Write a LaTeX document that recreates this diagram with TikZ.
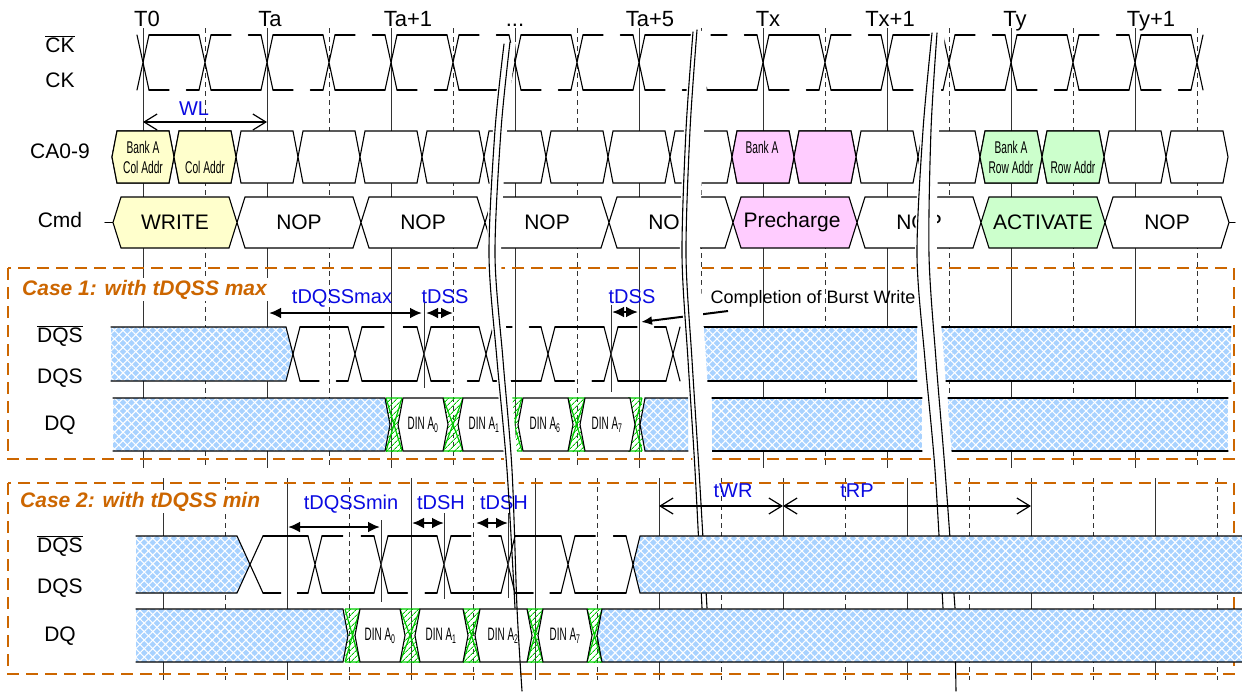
\documentclass[tikz,border=0pt]{standalone}
\usepackage{fontspec}
\setmainfont{Liberation Sans}
\usetikzlibrary{arrows.meta,positioning,patterns.meta}

\definecolor{yellowbox}{RGB}{255,255,204}
\definecolor{pinkbox}{RGB}{255,204,255}
\definecolor{greenbox}{RGB}{204,255,204}
\definecolor{casebrown}{RGB}{204,102,0}
\definecolor{dimblue}{RGB}{10,10,225}
\definecolor{hatchblue}{RGB}{168,210,255}
\definecolor{dingreen}{RGB}{0,200,0}

\newcommand{\narrowtxt}[1]{\scalebox{0.6}[1]{#1}}
\newcommand{\dintxt}[1]{\scalebox{0.55}[1]{DIN A\textsubscript{#1}}}
% hexagon, tip to tip
\newcommand{\hexpath}[5]{({#1},{(#3+#4)/2}) -- ({#1+#5},#3) -- ({#2-#5},#3) -- ({#2},{(#3+#4)/2}) -- ({#2-#5},#4) -- ({#1+#5},#4) -- cycle}
% crossing of a differential pair
\newcommand{\xcross}[4]{\draw[wave] ({#1-#4},#2) -- ({#1+#4},#3) ({#1-#4},#3) -- ({#1+#4},#2);}
% half period: one level solid, the other broken
\newcommand{\halfcyc}[6]{%
  \pgfmathsetmacro{\hxa}{#1+#5}%
  \pgfmathsetmacro{\hxb}{(#2)-#5}%
  \pgfmathsetmacro{\hpa}{#1+0.42*((#2)-(#1))}%
  \pgfmathsetmacro{\hpb}{#1+0.70*((#2)-(#1))}%
  \ifnum#6=1
    \draw[wave] (\hxa,#3) -- (\hxb,#3) (\hxa,#4) -- (\hpa,#4) (\hpb,#4) -- (\hxb,#4);
  \else
    \draw[wave] (\hxa,#4) -- (\hxb,#4) (\hxa,#3) -- (\hpa,#3) (\hpb,#3) -- (\hxb,#3);
  \fi}
% green data transition
\newcommand{\dqtrans}[4]{%
  \fill[pattern={Lines[angle=45,distance=4pt,line width=1pt]}, pattern color=dingreen] (#1,#3) rectangle (#2,#4);
  \draw[dingreen, line width=1.2pt] (#1,#3) -- (#2,#4) (#1,#4) -- (#2,#3) (#1,#3) -- (#2,#3) (#1,#4) -- (#2,#4);}
\newcommand{\hatchrect}[4]{%
  \path[hatch] (#1,#3) rectangle (#2,#4);
  \draw[wave] (#1,#3) -- (#2,#3) (#1,#4) -- (#2,#4);}

\begin{document}
\begin{tikzpicture}[x=1pt, y=-1pt,
  wave/.style={line width=1.1pt, line cap=round},
  gridsolid/.style={line width=0.9pt, black!80},
  griddash/.style={gridsolid, dash pattern=on 5pt off 4pt},
  hexbox/.style={draw, line width=1.1pt, fill=white},
  hatch/.style={preaction={fill=hatchblue},
    preaction={pattern={Lines[angle=45,distance=6pt,line width=1.1pt]}, pattern color=white},
    preaction={pattern={Lines[angle=-45,distance=6pt,line width=1.1pt]}, pattern color=white}},
  sig/.style={font=\fontsize{21}{25}\selectfont, anchor=base},
  clk/.style={font=\fontsize{22}{26}\selectfont, anchor=base},
  cmdtext/.style={font=\fontsize{21}{25}\selectfont},
  catext/.style={font=\fontsize{17}{20}\selectfont, align=center},
  dintext/.style={font=\fontsize{18}{20}\selectfont},
  timing/.style={font=\fontsize{20}{24}\selectfont, text=dimblue, anchor=base},
  casetitle/.style={font=\fontsize{21}{24}\selectfont\bfseries\itshape, text=casebrown, anchor=base west, fill=white, inner sep=2pt},
  casebox/.style={draw=casebrown, line width=2.5pt, dash pattern=on 12pt off 7pt},
  thinarr/.style={line width=1.2pt, {Straight Barb[length=13pt,width=16pt]}-{Straight Barb[length=13pt,width=16pt]}},
  boldarr/.style={line width=2.8pt, {Latex[length=12pt,width=11pt]}-{Latex[length=12pt,width=11pt]}}
]
\useasboundingbox (0,0) rectangle (1242,691);

% Clock names
\node[clk] (t0) at (147,26) {T0};
\node[clk] (ta) at (270,26) {Ta};
\node[clk] (ta1) at (408,26) {Ta+1};
\node[clk] (tdots) at (515,26) {...};
\node[clk] (ta5) at (650,26) {Ta+5};
\node[clk] (tx) at (768,26) {Tx};
\node[clk] (tx1) at (890,26) {Tx+1};
\node[clk] (ty) at (1015,26) {Ty};
\node[clk] (ty1) at (1151,26) {Ty+1};

% Signal names
\node[sig] (ckbar) at (60,52) {$\overline{\mbox{CK}}$};
\node[sig] (ck) at (60,87) {CK};
\node[sig] (ca) at (60,158) {CA0-9};
\node[sig] (cmd) at (60,227) {Cmd};

% Grid
\foreach \k in {0,...,8} {
  \draw[gridsolid] ({143+124*\k},28) -- ({143+124*\k},468);
  \draw[griddash] ({205+124*\k},28) -- ({205+124*\k},468);
  \draw[gridsolid] ({163+124*\k},478) -- ({163+124*\k},680);
  \draw[griddash] ({225+124*\k},478) -- ({225+124*\k},680);
}

% Clock
\foreach \k in {0,...,17} {\xcross{143+62*\k}{35}{90}{6}}
\foreach \k in {0,...,16} {
  \pgfmathsetmacro{\ca}{143+62*\k}
  \pgfmathtruncatemacro{\up}{1-mod(\k,2)}
  \halfcyc{\ca}{\ca+62}{35}{90}{6}{\up}
}

% WL
\coordinate (wlL) at (143,122);
\coordinate (wlR) at (267,122);
\draw[thinarr] (wlL) -- (wlR);
\node[timing] (wl) at (194,115) {WL};

% CA bus
\foreach \k in {0,...,17} \draw[hexbox] \hexpath{112+62*\k}{174+62*\k}{131}{183}{5};
\draw[hexbox, fill=yellowbox] \hexpath{112}{174}{131}{183}{5};
\draw[hexbox, fill=yellowbox] \hexpath{174}{236}{131}{183}{5};
\draw[hexbox, fill=pinkbox] \hexpath{732}{794}{131}{183}{5};
\draw[hexbox, fill=pinkbox] \hexpath{794}{856}{131}{183}{5};
\draw[hexbox, fill=greenbox] \hexpath{980}{1042}{131}{183}{5};
\draw[hexbox, fill=greenbox] \hexpath{1042}{1104}{131}{183}{5};
\node[catext] (cawr1) at (143,157) {\narrowtxt{Bank A}\\\narrowtxt{Col Addr}};
\node[catext] (cawr2) at (205,167) {\narrowtxt{Col Addr}};
\node[catext] (capre) at (762,147) {\narrowtxt{Bank A}};
\node[catext] (caact1) at (1011,157) {\narrowtxt{Bank A}\\\narrowtxt{Row Addr}};
\node[catext] (caact2) at (1073,167) {\narrowtxt{Row Addr}};

% Commands
\draw[wave] (105,222.5) -- (113,222.5) (1229,222.5) -- (1235,222.5);
\foreach \k in {1,2,3,4,6,8} {
  \draw[hexbox] \hexpath{113+124*\k}{237+124*\k}{197}{248}{8};
  \node[cmdtext] (cmd\k) at ({175+124*\k},222.5) {NOP};
}
\draw[hexbox, fill=yellowbox] \hexpath{113}{237}{197}{248}{8};
\node[cmdtext] (cmd0) at (175,222.5) {WRITE};
\draw[hexbox, fill=pinkbox] \hexpath{733}{857}{197}{248}{8};
\node[cmdtext] (cmd5) at (792,222.5) {Precharge};
\draw[hexbox, fill=greenbox] \hexpath{981}{1105}{197}{248}{8};
\node[cmdtext] (cmd7) at (1043,222.5) {ACTIVATE};

% Case boxes
\draw[casebox] (8,268) rectangle (1234,459);
\draw[casebox] (8,483) rectangle (1234,674);
\node[casetitle] (case1) at (20,295) {Case 1: with tDQSS max};
\node[casetitle] (case2) at (18,507) {Case 2: with tDQSS min};

% Case 1
\node[sig] (dqsbar1) at (60,342) {$\overline{\mbox{DQS}}$};
\node[sig] (dqs1) at (60,383) {DQS};
\node[sig] (dq1) at (60,430) {DQ};

\draw[wave, hatch] (111,327) -- (286,327) -- (293,354) -- (286,381) -- (111,381);
\draw[wave] (300,327) -- (293,354) -- (300,381);
\foreach \a/\b/\up in {293/355/1,355/424/0,424/486/1,486/548/0,548/611/1,611/673/0} {\halfcyc{\a}{\b}{327}{381}{7}{\up}}
\foreach \c in {355,424,486,548,611,673} {\xcross{\c}{327}{381}{7}}
\hatchrect{702}{917}{327}{381}
\hatchrect{938}{1231}{327}{381}

\foreach \p/\q in {386/402,443/463,506/522,568/585,628/642} {\dqtrans{\p}{\q}{398}{451}}
\draw[wave, hatch] (113,398) -- (385,398) -- (390,424.5) -- (385,451) -- (113,451);
\draw[hexbox] \hexpath{398}{448}{398}{451}{5};
\draw[hexbox] \hexpath{458}{510}{398}{451}{5};
\draw[hexbox] \hexpath{518}{573}{398}{451}{5};
\draw[hexbox] \hexpath{580}{635}{398}{451}{5};
\node[dintext] (din1a0) at (423,424.5) {\dintxt{0}};
\node[dintext] (din1a1) at (484,424.5) {\dintxt{1}};
\node[dintext] (din1a6) at (545,424.5) {\dintxt{6}};
\node[dintext] (din1a7) at (607,424.5) {\dintxt{7}};
\draw[wave, hatch] (688,398) -- (645,398) -- (640,424.5) -- (645,451) -- (688,451);
\hatchrect{712}{922}{398}{451}
\hatchrect{948}{1228}{398}{451}

\draw[gridsolid] (424,300) -- (424,388);
\draw[gridsolid] (611,305) -- (611,392);
\coordinate (dqssmaxL) at (269,313);
\coordinate (dqssmaxR) at (422,313);
\coordinate (dss1L) at (426,313);
\coordinate (dss1R) at (453,313);
\coordinate (dss2L) at (612,312);
\coordinate (dss2R) at (638,312);
\draw[boldarr] (dqssmaxL) -- (dqssmaxR);
\draw[boldarr] (dss1L) -- (dss1R);
\draw[boldarr] (dss2L) -- (dss2R);
\node[timing] (tdqssmax) at (342,303) {tDQSSmax};
\node[timing] (tdss1) at (445,303) {tDSS};
\node[timing] (tdss2) at (632,303) {tDSS};

\coordinate (cbwA) at (728,311);
\coordinate (cbwB) at (641,322);
\draw[line width=2pt, -{Latex[length=11pt,width=9pt]}] (cbwA) -- (cbwB);

% Breaks
\fill[white] plot[smooth] coordinates {(502,44) (493,130) (487,255) (495,360) (505,470) (513,608)}
  -- plot[smooth] coordinates {(523,608) (518,470) (509,360) (501,255) (507,130) (516,42)} -- cycle;
\fill[white] plot[smooth] coordinates {(691,32) (684,130) (680,255) (686,360) (693,470) (700,608)}
  -- plot[smooth] coordinates {(721,608) (713,470) (706,360) (700,255) (704,130) (711,30)} -- cycle;
\fill[white] plot[smooth] coordinates {(930,33) (921,130) (915,255) (923,360) (933,470) (941,608)}
  -- plot[smooth] coordinates {(963,608) (953,470) (944,360) (937,255) (939,130) (945,33)} -- cycle;
\draw[wave] plot[smooth] coordinates {(693,32) (686,130) (682,255) (688,360) (695,470) (702,608)};
\draw[wave] plot[smooth] coordinates {(697,30) (690,130) (686,255) (692,360) (699,470) (707,608)};
\draw[wave] plot[smooth] coordinates {(932,33) (923,130) (917,255) (925,360) (935,470) (943,608)};
\draw[wave] plot[smooth] coordinates {(937,33) (931,130) (929,255) (936,360) (945,470) (955,608)};

% Case 2
\node[sig] (dqsbar2) at (60,552) {$\overline{\mbox{DQS}}$};
\node[sig] (dqs2) at (60,593) {DQS};
\node[sig] (dq2) at (60,641) {DQ};

\draw[wave, hatch] (136,536) -- (237,536) -- (250,564.5) -- (237,593) -- (136,593);
\draw[wave] (263,536) -- (250,564.5) -- (263,593);
\foreach \a/\b/\up in {256/315/1,315/381/0,381/444/1,444/508/0,508/568/1,568/633/0} {\halfcyc{\a}{\b}{536}{593}{7}{\up}}
\foreach \c in {315,381,444,508,568} {\xcross{\c}{536}{593}{7}}
\draw[wave] (626,536) -- (633,564.5) -- (626,593);
\draw[wave, hatch] (1242,536) -- (640,536) -- (633,564.5) -- (640,593) -- (1242,593);

\foreach \p/\q in {345/360,400/420,463/480,527/543,587/602} {\dqtrans{\p}{\q}{609}{662}}
\draw[wave, hatch] (136,609) -- (343,609) -- (348,635.5) -- (343,662) -- (136,662);
\draw[hexbox] \hexpath{355}{405}{609}{662}{5};
\draw[hexbox] \hexpath{415}{468}{609}{662}{5};
\draw[hexbox] \hexpath{475}{532}{609}{662}{5};
\draw[hexbox] \hexpath{538}{592}{609}{662}{5};
\node[dintext] (din2a0) at (380,635.5) {\dintxt{0}};
\node[dintext] (din2a1) at (441,635.5) {\dintxt{1}};
\node[dintext] (din2a2) at (503,635.5) {\dintxt{2}};
\node[dintext] (din2a7) at (565,635.5) {\dintxt{7}};
\draw[wave, hatch] (1242,609) -- (602,609) -- (597,635.5) -- (602,662) -- (1242,662);

\draw[gridsolid] (381,520) -- (381,602);
\draw[gridsolid] (444,513) -- (444,599);
\draw[gridsolid] (508,513) -- (508,598);
\coordinate (dqssminL) at (288,527);
\coordinate (dqssminR) at (380,527);
\coordinate (dsh1L) at (412,523);
\coordinate (dsh1R) at (444,523);
\coordinate (dsh2L) at (476,523);
\coordinate (dsh2R) at (508,523);
\draw[boldarr] (dqssminL) -- (dqssminR);
\draw[boldarr] (dsh1L) -- (dsh1R);
\draw[boldarr] (dsh2L) -- (dsh2R);
\node[timing] (tdqssmin) at (351,509) {tDQSSmin};
\node[timing] (tdsh1) at (441,509) {tDSH};
\node[timing] (tdsh2) at (504,509) {tDSH};

\coordinate (twrL) at (659,506);
\coordinate (twrR) at (783,506);
\coordinate (trpR) at (1031,506);
\draw[thinarr] (twrL) -- (twrR);
\draw[thinarr] (twrR) -- (trpR);
\node[timing] (twr) at (733,497) {tWR};
\node[timing] (trp) at (857,497) {tRP};

% Break lines on top
\draw[wave] plot[smooth] coordinates {(504,44) (495,130) (489,255) (497,360) (507,470) (515,608)};
\draw[wave] plot[smooth] coordinates {(510,42) (501,130) (495,255) (503,360) (512,470) (517,608) (522,691)};
\draw[wave] (955.5,662) -- (956,691);

\node[anchor=base west, font=\fontsize{18}{22}\selectfont] (cbw) at (707,303) {Completion of Burst Write};
\end{tikzpicture}
\end{document}
